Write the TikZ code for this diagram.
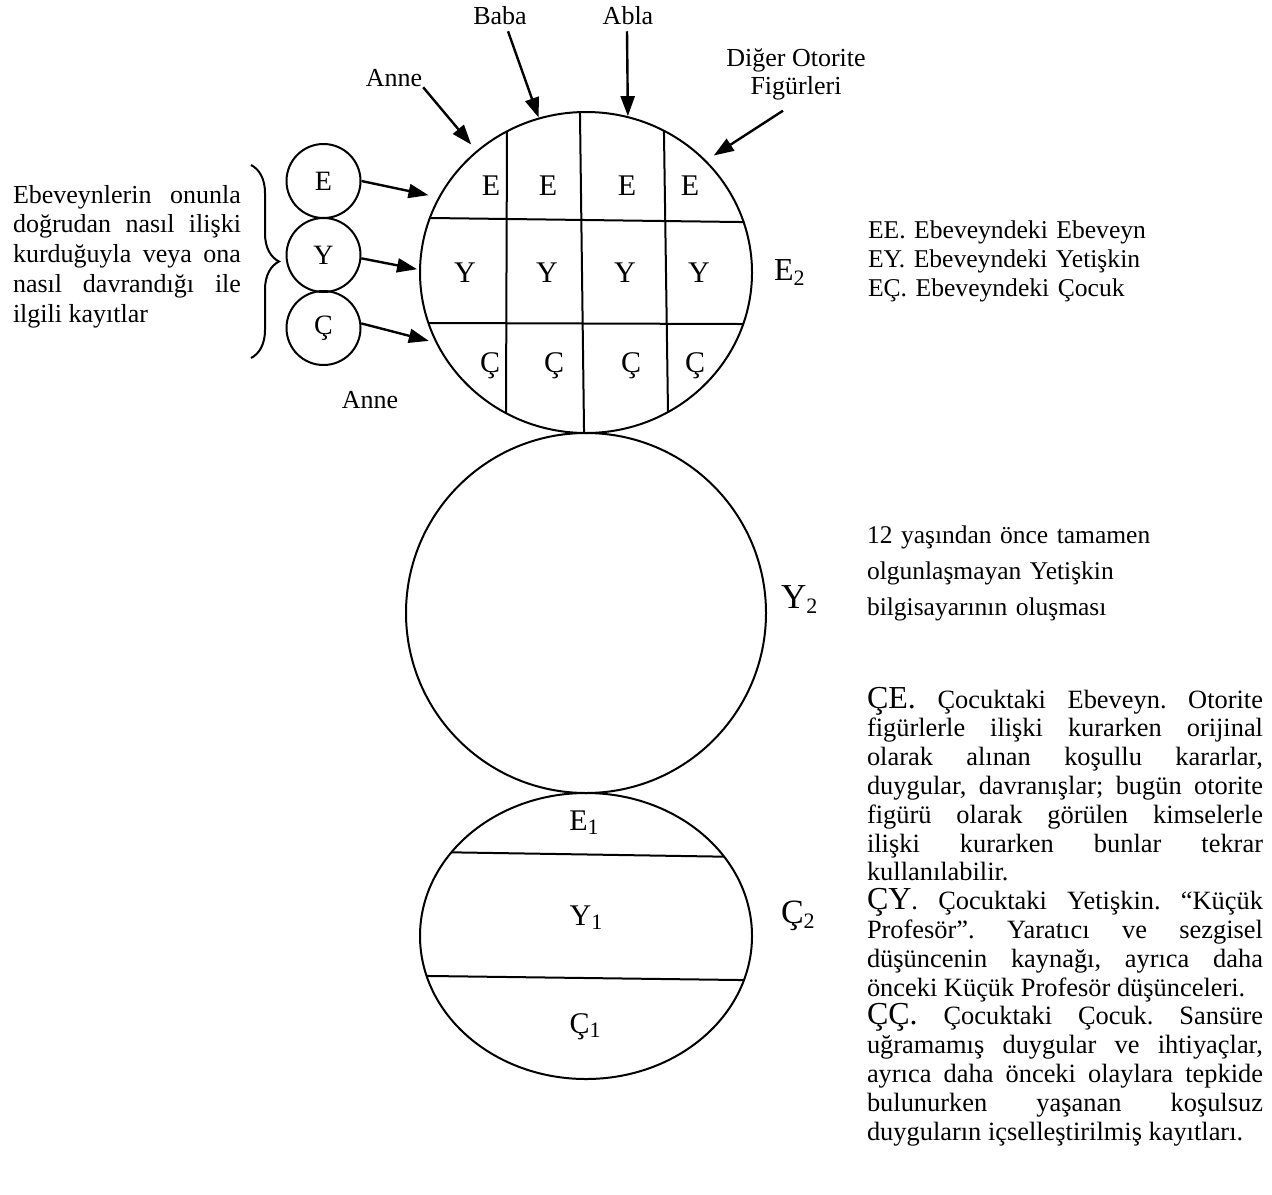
\documentclass[tikz,border=0pt]{standalone}
\usepackage{fontspec}
\setmainfont{Liberation Serif}
\usetikzlibrary{arrows.meta}
\usetikzlibrary{shapes.geometric}
\usetikzlibrary{decorations.pathreplacing}

\hyphenpenalty=10000
\exhyphenpenalty=10000
\frenchspacing
\newcommand{\egoSub}[2]{#1\raisebox{-0.35ex}{\fontsize{11}{11}\selectfont #2}}
\newcommand{\bigPre}[1]{{\fontsize{16}{14.4}\selectfont #1}}

\begin{document}
\begin{tikzpicture}[x=0.5pt,y=-0.5pt,line width=1pt,
        ringNode/.style = {shape=ellipse,draw=black,inner sep=0pt},
        smallRing/.style = {shape=circle,draw=black,minimum size=37pt,inner sep=0pt,font=\fontsize{14}{14}\selectfont},
        cellNode/.style = {anchor=base,inner sep=0pt,font=\fontsize{15}{15}\selectfont},
        egoNode/.style = {anchor=base west,inner sep=0pt,font=\fontsize{16}{16}\selectfont},
        nameNode/.style = {anchor=base,inner sep=0pt,font=\fontsize{13}{14}\selectfont},
        noteNode/.style = {anchor=base west,inner sep=0pt,align=justify}, % text blocks, first baseline at the coordinate
        pointer/.style = {line width=1.2pt,-{Triangle[length=10pt,width=7pt]}}
        ]
        \useasboundingbox (0,0) rectangle (1272,1194);

        % the three ego states
        \node[ringNode,minimum width=166pt,minimum height=160.5pt] (parentRing) at (586,272.5) {};
        \node[ringNode,minimum width=180pt,minimum height=180pt] (adultRing) at (586,613) {};
        \node[ringNode,minimum width=166pt,minimum height=143pt] (childRing) at (586,936) {};

        % grid of the parent
        \begin{scope}
            \clip (parentRing.center) ellipse [x radius=83pt,y radius=80.25pt];
            \draw (507.1,100) -- (505.9,440);
            \draw (579.8,100) -- (584.2,445);
            \draw (663.5,100) -- (668.4,440);
            \draw (400,217.6) -- (770,222.4);
            \draw (400,322.9) -- (770,324.1);
        \end{scope}

        % bands of the child
        \begin{scope}
            \clip (childRing.center) ellipse [x radius=83pt,y radius=71.5pt];
            \draw (400,851.5) -- (770,857.4);
            \draw (400,975.6) -- (770,980.4);
        \end{scope}

        \node[cellNode] (pe1) at (491,195) {E};
        \node[cellNode] (pe2) at (548,195) {E};
        \node[cellNode] (pe3) at (627,195) {E};
        \node[cellNode] (pe4) at (690,195) {E};
        \node[cellNode] (py1) at (465,282) {Y};
        \node[cellNode] (py2) at (547,282) {Y};
        \node[cellNode] (py3) at (625,282) {Y};
        \node[cellNode] (py4) at (699,282) {Y};
        \node[cellNode] (pc1) at (490,372) {Ç};
        \node[cellNode] (pc2) at (554,372) {Ç};
        \node[cellNode] (pc3) at (631,372) {Ç};
        \node[cellNode] (pc4) at (695,372) {Ç};

        \node[cellNode] (childE) at (584,830) {\egoSub{E}{1}};
        \node[cellNode] (childY) at (586,925) {\egoSub{Y}{1}};
        \node[cellNode] (childC) at (585,1033) {\egoSub{Ç}{1}};

        \node[egoNode] (parentTag) at (773,280) {\egoSub{E}{2}};
        \node[egoNode,font=\fontsize{17.5}{17.5}\selectfont] (adultTag) at (780,608) {\egoSub{Y}{2}};
        \node[egoNode,font=\fontsize{17}{17}\selectfont] (childTag) at (780,923) {\egoSub{Ç}{2}};

        % mother's states
        \node[smallRing] (motherE) at (323.5,181) {E};
        \node[smallRing] (motherY) at (323.5,255) {Y};
        \node[smallRing] (motherC) at (323.5,328) {Ç};
        \draw[pointer,shorten >=5pt] (motherE.east) -- (parentRing.153);
        \draw[pointer,shorten >=1pt] (motherY.-5) -- (parentRing.179);
        \draw[pointer,shorten >=3.5pt] (motherC.7) -- (parentRing.205);
        \node[nameNode] (motherLow) at (370,408) {Anne};

        \draw[decorate,decoration={brace,amplitude=14pt}] (251,165) -- (251,358);
        \node[noteNode,text width=114pt,font=\fontsize{13}{14.9}\selectfont] (recordNote) at (12,203)
            {Ebeveynlerin onunla\linebreak doğrudan nasıl ilişki\linebreak kurduğuyla veya ona\linebreak nasıl davrandığı ile\linebreak ilgili kayıtlar};

        % authority figures
        \node[nameNode] (motherTop) at (394,86) {Anne};
        \node[nameNode] (fatherTop) at (500,25) {Baba};
        \node[nameNode] (sisterTop) at (628,25) {Abla};
        \node[nameNode,anchor=center,align=center] (otherTop) at (796,74) {Diğer Otorite\\Figürleri};
        \draw[pointer,shorten >=4pt] (motherTop.south east) -- (parentRing.132);
        \draw[pointer] ([xshift=4pt,yshift=-2.5pt]fatherTop.south) -- (parentRing.107.6);
        \draw[pointer] ([xshift=-0.5pt,yshift=-2.5pt]sisterTop.south) -- (parentRing.75);
        \draw[pointer,shorten >=4.5pt] ([xshift=-6.5pt,yshift=-5pt]otherTop.south) -- (parentRing.43);

        % notes on the right
        \node[noteNode,text width=200pt,align=left,font=\fontsize{12.8}{14.5}\selectfont] (parentNote) at (867,238)
            {EE. Ebeveyndeki Ebeveyn\\EY. Ebeveyndeki Yetişkin\\EÇ. Ebeveyndeki Çocuk};
        \node[noteNode,text width=200pt,align=left,font=\fontsize{12.75}{18}\selectfont] (adultNote) at (866,543)
            {12 yaşından önce tamamen\\olgunlaşmayan Yetişkin\\bilgisayarının oluşması};
        \node[noteNode,text width=198pt,font=\fontsize{13.2}{14.4}\selectfont] (childNote) at (866,708)
            {\bigPre{ÇE.} Çocuktaki Ebeveyn. Otorite\linebreak
            figürlerle ilişki kurarken orijinal\linebreak
            olarak alınan koşullu kararlar,\linebreak
            duygular, davranışlar; bugün otorite\linebreak
            figürü olarak görülen kimselerle\linebreak
            ilişki kurarken bunlar tekrar\linebreak
            kullanılabilir.\par
            \bigPre{ÇY}. Çocuktaki Yetişkin. ``Küçük\linebreak
            Profesör''. Yaratıcı ve sezgisel\linebreak
            düşüncenin kaynağı, ayrıca daha\linebreak
            önceki Küçük Profesör düşünceleri.\par
            \bigPre{ÇÇ.} Çocuktaki Çocuk. Sansüre\linebreak
            uğramamış duygular ve ihtiyaçlar,\linebreak
            ayrıca daha önceki olaylara tepkide\linebreak
            bulunurken yaşanan koşulsuz\linebreak
            duyguların içselleştirilmiş kayıtları.};
    \end{tikzpicture}
\end{document}
